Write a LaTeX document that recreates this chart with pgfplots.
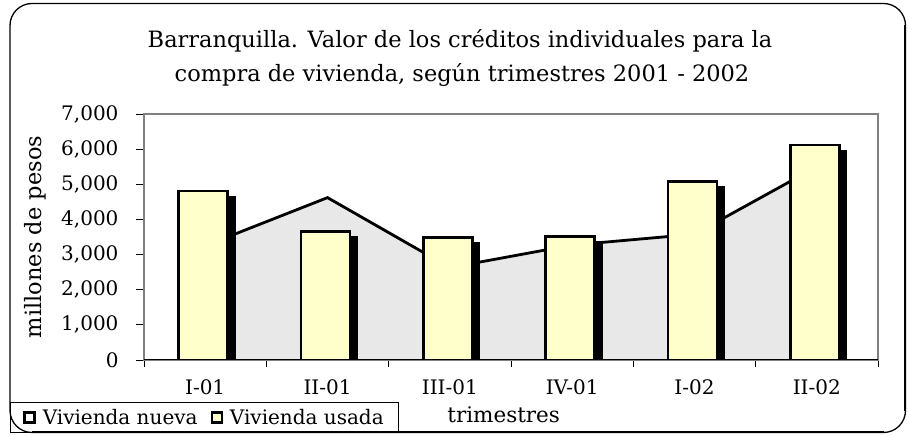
\documentclass[border=0pt]{standalone}
\usepackage{fontspec}
\setmainfont{DejaVu Serif}
\usepackage{pgfplots}
\pgfplotsset{compat=1.18}
\definecolor{barfill}{HTML}{FFFFCC}
\definecolor{areafill}{HTML}{E8E8E8}
\definecolor{axgray}{HTML}{808080}
\newcommand{\tickfont}{\fontsize{20bp}{24bp}\selectfont}
\begin{document}
\begin{tikzpicture}[x=1bp,y=1bp]
\useasboundingbox (0,0) rectangle (909,436);
\draw[line width=1.3bp, rounded corners=22bp] (10,3.5) rectangle (905.5,432.5);
\draw[line width=1.3bp] (904.5,25) -- (904.5,411);
\draw[line width=1.3bp] (32,4.5) -- (884,4.5);
\begin{axis}[
  at={(144bp,76bp)}, anchor=south west, scale only axis,
  width=734bp, height=246bp,
  xmin=-0.5, xmax=5.5, ymin=0, ymax=7000,
  axis line style={draw=axgray, line width=2bp},
  tick align=outside, xtick pos=bottom, ytick pos=left,
  xtick={0,...,5},
  xticklabels={I-01,II-01,III-01,IV-01,I-02,II-02},
  major x tick style={draw=none},
  minor xtick={-0.5,0.5,1.5,2.5,3.5,4.5,5.5},
  minor tick length=7bp,
  ytick={0,1000,...,7000},
  major tick length=8bp,
  tick style={black, line width=0.9bp},
  scaled y ticks=false,
  /pgf/number format/.cd, 1000 sep={,}, assume math mode=true, /pgfplots/.cd,
  ticklabel style={font=\tickfont},
  xticklabel style={yshift=-8bp},
  yticklabel style={xshift=-14bp},
  xlabel={trimestres},
  ylabel={millones de pesos},
  label style={font=\fontsize{22.5bp}{26bp}\selectfont},
  xlabel style={at={(rel axis cs:0.49,0)}, anchor=base, yshift=-63bp, font=\fontsize{21.5bp}{25bp}\selectfont},
  ylabel style={at={(rel axis cs:-0.1485,0.5)}, anchor=center, rotate=0},
  legend style={at={(rel axis cs:-0.1826,-0.2967)}, anchor=south west,
    draw=black, line width=0.8bp, fill=none, legend columns=2,
    font=\tickfont, inner xsep=13bp, inner ysep=5bp,
    /tikz/every even column/.append style={column sep=11bp}},
  legend cell align=left,
]
\addplot[draw=none, fill=areafill,
  legend image code/.code={\draw[black, line width=2.8bp, fill=white] (0bp,-5bp) rectangle (10bp,5bp); \path[draw=none, fill=none] (0bp,0bp) -- (16bp,0bp);}]
  coordinates {(0,3250) (1,4620) (2,2630) (3,3270) (4,3580) (5,5500)} \closedcycle;
\addlegendentry{Vivienda nueva}
\addplot[black, line width=2.8bp, forget plot]
  coordinates {(0,3250) (1,4620) (2,2630) (3,3270) (4,3580) (5,5500)};
\addplot[ybar, bar width=49bp, bar shift=4.5bp, fill=black, draw=black, line width=2.8bp,
  forget plot, transform canvas={yshift=-6bp}]
  coordinates {(0,4810) (1,3650) (2,3490) (3,3510) (4,5090) (5,6120)};
\addplot[ybar, bar width=49bp, bar shift=-2bp, fill=barfill, draw=black, line width=2.8bp,
  legend image code/.code={\draw[black, line width=2.8bp, fill=barfill] (0bp,-5bp) rectangle (10bp,5bp); \path[draw=none, fill=none] (0bp,0bp) -- (16bp,0bp);}]
  coordinates {(0,4810) (1,3650) (2,3490) (3,3510) (4,5090) (5,6120)};
\addlegendentry{Vivienda usada}
\draw[black, line width=1.5bp] (rel axis cs:0,0) -- (rel axis cs:1,0);
\end{axis}
\node[anchor=base, font=\fontsize{22.5bp}{26bp}\selectfont] at (460,388) {Barranquilla. Valor de los créditos individuales para la};
\node[anchor=base, font=\fontsize{22.5bp}{26bp}\selectfont] at (462,354) {compra de vivienda, según trimestres 2001 - 2002};
\end{tikzpicture}
\end{document}
